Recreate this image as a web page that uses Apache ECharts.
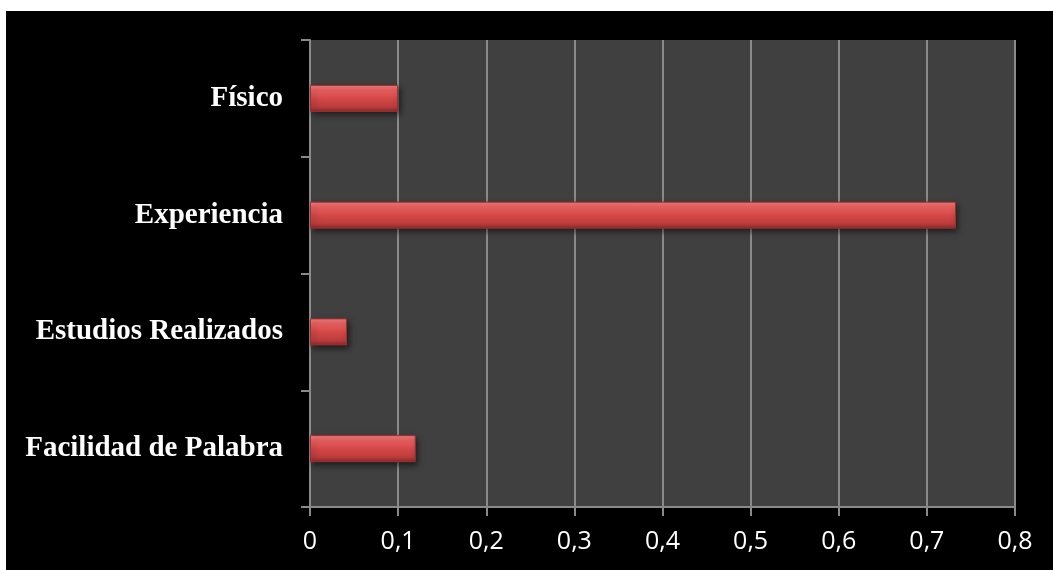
<!DOCTYPE html>
<html>
<head>
<meta charset="utf-8">
<script src="https://cdn.jsdelivr.net/npm/echarts@6/dist/echarts.min.js"></script>
<style>
  html, body { margin: 0; padding: 0; background: #ffffff; width: 1053px; height: 570px; overflow: hidden; }
  #chart { position: absolute; left: 6px; top: 11px; width: 1047px; height: 559px; background: #000000; }
</style>
</head>
<body>
<div id="chart"></div>
<script>
// Categories listed bottom-to-top (ECharts category y-axis starts at the bottom)
const categories = ['Facilidad de Palabra', 'Estudios Realizados', 'Experiencia', 'Físico'];
const values = [0.12, 0.042, 0.733, 0.1];
const xTicks = { min: 0, max: 0.8, interval: 0.1 };

const chart = echarts.init(document.getElementById('chart'));

const barFill = new echarts.graphic.LinearGradient(0, 0, 0, 1, [
  { offset: 0, color: '#f68080' },
  { offset: 0.2, color: '#ec6262' },
  { offset: 0.5, color: '#d54848' },
  { offset: 0.82, color: '#bb3c3c' },
  { offset: 1, color: '#8c2828' }
]);

chart.setOption({
  backgroundColor: '#000000',
  animation: false,
  grid: {
    left: 304, right: 38, top: 29, bottom: 63,
    show: true, backgroundColor: '#404040', borderWidth: 0
  },
  xAxis: {
    type: 'value',
    min: xTicks.min, max: xTicks.max, interval: xTicks.interval,
    axisLine: { show: true, lineStyle: { color: '#8a8a8a', width: 2 } },
    axisTick: { show: true, length: 9, lineStyle: { color: '#8a8a8a', width: 2 } },
    splitLine: { show: true, lineStyle: { color: '#8a8a8a', width: 2 } },
    axisLabel: {
      color: '#ffffff', fontSize: 25, fontFamily: 'Open Sans', margin: 22,
      formatter: v => String(+(+v).toFixed(1)).replace('.', ',')
    }
  },
  yAxis: {
    type: 'category',
    data: categories,
    axisLine: { show: true, lineStyle: { color: '#8a8a8a', width: 2 } },
    axisTick: { show: true, length: 9, lineStyle: { color: '#8a8a8a', width: 2 } },
    splitLine: { show: false },
    axisLabel: {
      color: '#ffffff', fontSize: 29, fontWeight: 'bold',
      fontFamily: 'Liberation Serif', margin: 27
    }
  },
  series: [{
    type: 'bar',
    data: values,
    barWidth: 27,
    itemStyle: {
      color: barFill,
      borderColor: '#9a3030', borderWidth: 1,
      shadowColor: 'rgba(0,0,0,0.55)', shadowBlur: 6, shadowOffsetX: 2, shadowOffsetY: 3
    }
  }]
});
</script>
</body>
</html>
